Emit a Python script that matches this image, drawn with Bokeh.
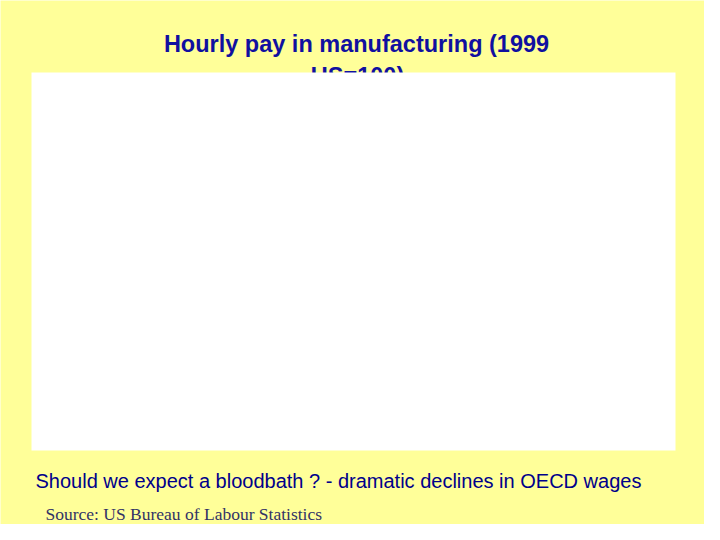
from bokeh.plotting import figure
from bokeh.models import Range1d
from bokeh.core.properties import value
from bokeh.embed import file_html
from bokeh.resources import INLINE

# Chart texts (the chart area itself is empty in the reference)
title_lines = ["Hourly pay in manufacturing (1999", "US=100)"]
subtitle = "Should we expect a bloodbath ? - dramatic declines in OECD wages"
source = "Source: US Bureau of Labour Statistics"

W, H = 704, 524
BG = "#FFFF99"

p = figure(width=W, height=H, output_backend="svg", toolbar_location=None,
           x_range=Range1d(0, W), y_range=Range1d(H, 0),
           min_border=0, min_border_left=0, min_border_right=0,
           min_border_top=0, min_border_bottom=0)
p.axis.visible = False
p.grid.visible = False
p.outline_line_color = None
p.background_fill_color = BG
p.border_fill_color = BG

# title (second line partly hidden behind the chart area)
p.text(x=[356, 357], y=[43, 75], text=title_lines, text_align="center",
       text_baseline="middle", text_font=value("Liberation Sans"),
       text_font_style="bold", text_font_size="23.5px", text_color="#1010A0")

# empty white chart area
p.quad(left=[31], right=[675], top=[72], bottom=[450],
       fill_color="white", line_color=None)

p.text(x=[35], y=[480], text=[subtitle], text_align="left",
       text_baseline="middle", text_font=value("Liberation Sans"),
       text_font_size="20px", text_color="#00008B")

p.text(x=[45], y=[513], text=[source], text_align="left",
       text_baseline="middle", text_font=value("Liberation Serif"),
       text_font_size="17.5px", text_color="#333366")

html = file_html(p, INLINE)
html = html.replace("<body>", '<body style="background:%s;">' % BG, 1)
open("out.html", "w").write(html)
